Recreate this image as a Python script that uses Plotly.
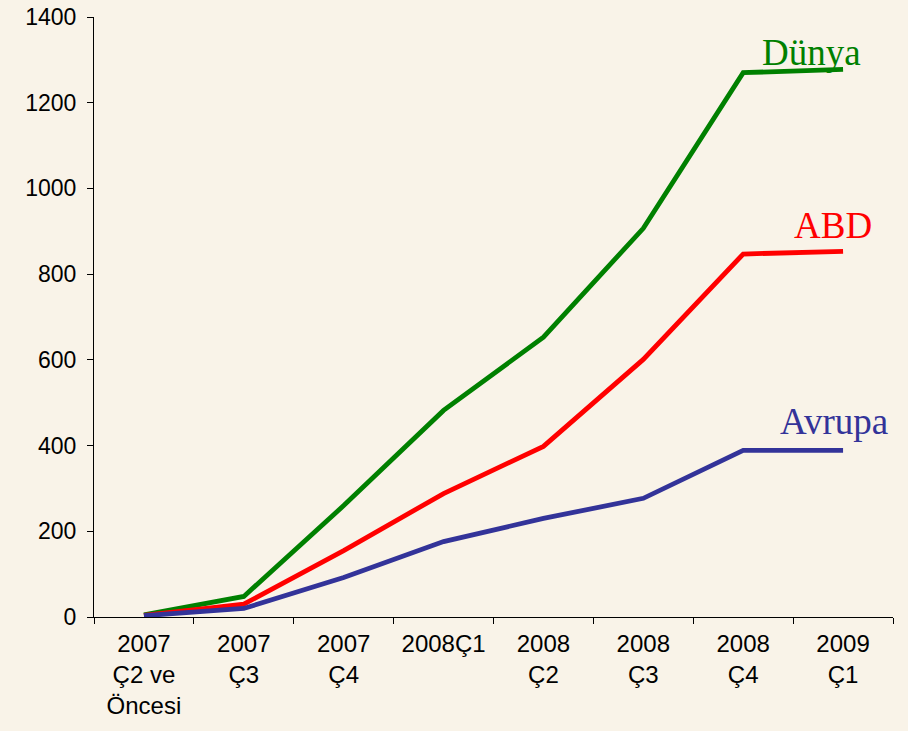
import plotly.graph_objects as go

categories = ["2007<br>Ç2 ve<br>Öncesi", "2007<br>Ç3", "2007<br>Ç4", "2008Ç1",
              "2008<br>Ç2", "2008<br>Ç3", "2008<br>Ç4", "2009<br>Ç1"]
dunya = [5, 48, 260, 482, 653, 907, 1270, 1278]
abd = [4, 30, 155, 288, 398, 601, 847, 853]
avrupa = [3, 20, 92, 176, 230, 277, 389, 389]

series = [
    ("Dünya", dunya, "#008000"),
    ("ABD", abd, "#FF0000"),
    ("Avrupa", avrupa, "#333399"),
]

fig = go.Figure()
for name, vals, col in series:
    fig.add_trace(go.Scatter(x=categories, y=vals, mode="lines", name=name,
                             line=dict(color=col, width=4.8)))

labels = [
    ("Dünya", 6.68, 1318, "#008000"),
    ("ABD", 6.9, 914, "#FF0000"),
    ("Avrupa", 6.91, 457, "#333399"),
]
for text, xi, yv, col in labels:
    fig.add_annotation(x=xi, y=yv, xref="x", yref="y", text=text, showarrow=False,
                       font=dict(family="Liberation Serif", size=37, color=col))

bg = "#F9F3E8"
fig.update_layout(
    width=908, height=731,
    paper_bgcolor=bg, plot_bgcolor=bg,
    margin=dict(l=94, r=15, t=17, b=114),
    showlegend=False,
    font=dict(family="Liberation Sans", size=24, color="black"),
)
fig.update_xaxes(
    type="category", range=[-0.5, 7.5], showgrid=False, zeroline=False,
    showline=True, linecolor="black", linewidth=1, automargin=False,
    ticks="outside", ticklen=6, tickcolor="black", tickson="boundaries",
    tickfont=dict(size=24), ticklabelstandoff=5,
)
fig.update_yaxes(
    range=[0, 1400], dtick=200, showgrid=False, zeroline=False,
    showline=True, linecolor="black", linewidth=1, automargin=False,
    ticks="outside", ticklen=6, tickcolor="black",
    tickfont=dict(size=23), ticklabelstandoff=6,
)
fig.write_html("out.html")
